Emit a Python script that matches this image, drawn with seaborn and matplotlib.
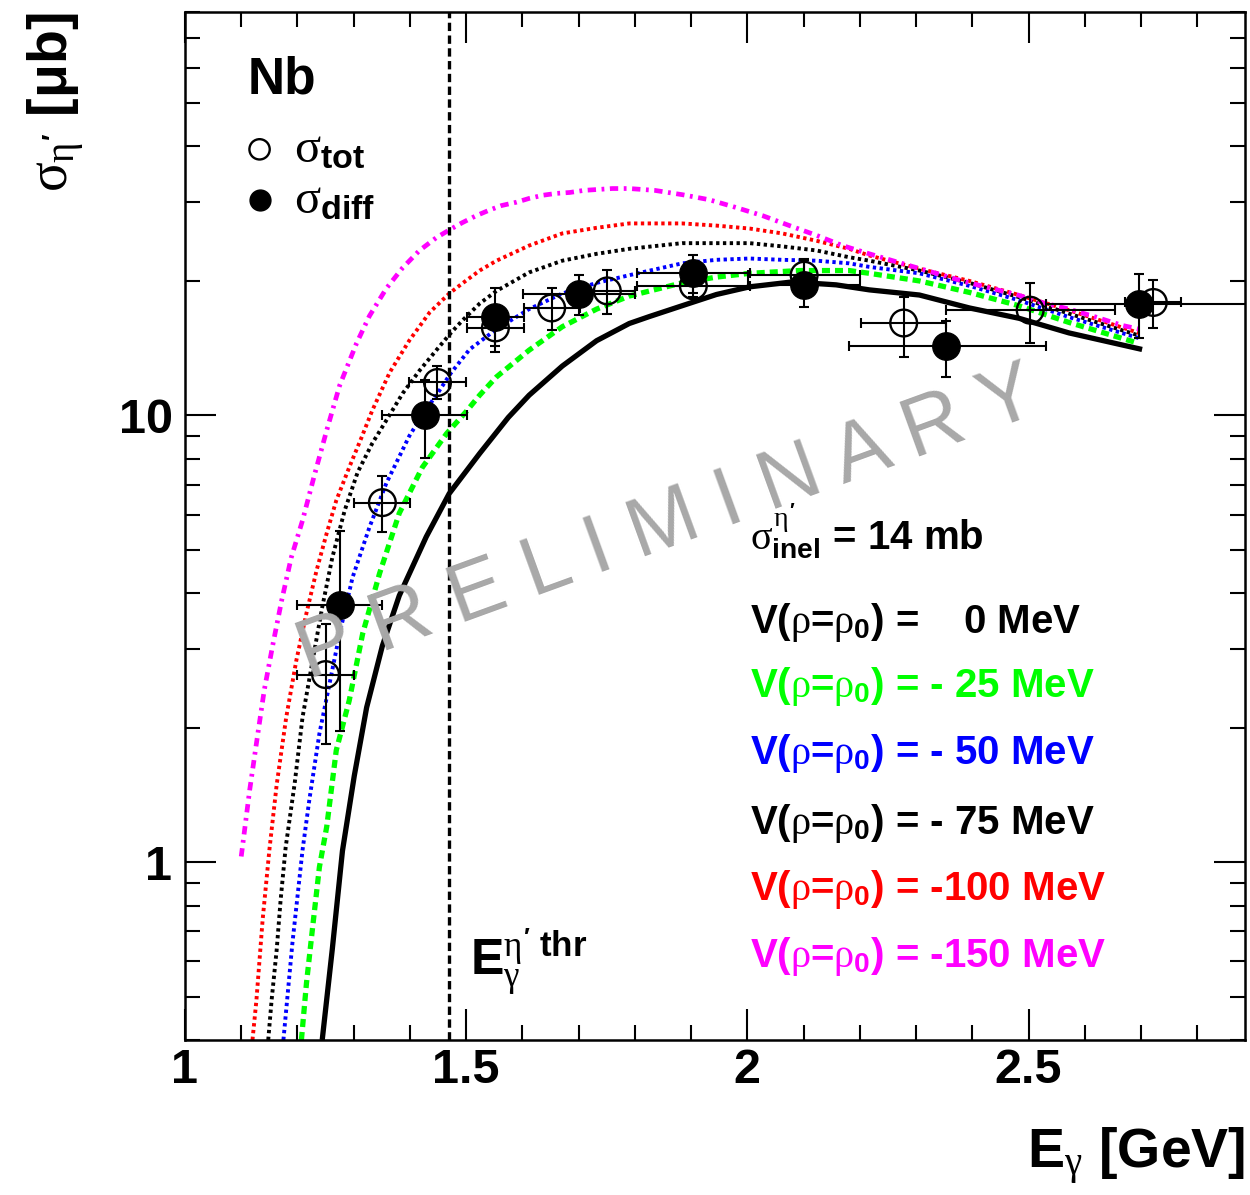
import numpy as np
import matplotlib
matplotlib.use("Agg")
import matplotlib.pyplot as plt
import seaborn as sns
from matplotlib.ticker import (FixedLocator, MultipleLocator, FuncFormatter,
                               NullFormatter, LogLocator)

# ---------------- model curves: sigma(eta') on Nb [mub] vs E_gamma [GeV]
e_v0 = [1.244, 1.262, 1.280, 1.301, 1.323, 1.351, 1.381, 1.429, 1.470, 1.524, 1.575,
        1.612, 1.671, 1.732, 1.790, 1.826, 1.884, 1.945, 2.004, 2.080, 2.158, 2.217,
        2.306, 2.395, 2.483, 2.572, 2.702]
xs_v0 = [0.40, 0.64, 1.06, 1.56, 2.22, 3.05, 3.95, 5.35, 6.69, 8.22, 9.90,
         11.1, 12.9, 14.7, 16.06, 16.65, 17.6, 18.65, 19.4, 19.9, 19.6, 19.1,
         18.6, 17.4, 16.5, 15.3, 14.05]

e_v25 = [1.207, 1.216, 1.227, 1.239, 1.252, 1.269, 1.292, 1.316, 1.346, 1.381, 1.422,
         1.465, 1.500, 1.524, 1.554, 1.612, 1.671, 1.732, 1.790, 1.884, 1.945, 2.004,
         2.092, 2.181, 2.217, 2.306, 2.395, 2.483, 2.572, 2.696]
xs_v25 = [0.40, 0.536, 0.716, 0.975, 1.20, 1.78, 2.30, 3.25, 4.43, 6.04, 7.65,
          9.1, 10.2, 11.1, 12.2, 14.0, 15.8, 17.3, 18.5, 19.8, 20.4, 20.8,
          21.1, 21.1, 20.8, 20.0, 18.85, 17.6, 16.15, 14.5]

e_v50 = [1.175, 1.191, 1.209, 1.221, 1.239, 1.257, 1.275, 1.298, 1.328, 1.358, 1.399,
         1.426, 1.447, 1.472, 1.506, 1.554, 1.612, 1.671, 1.732, 1.790, 1.884, 1.945,
         2.004, 2.062, 2.123, 2.181, 2.217, 2.306, 2.395, 2.483, 2.572, 2.696]
xs_v50 = [0.40, 0.659, 1.064, 1.376, 1.94, 2.51, 3.25, 4.34, 5.62, 7.05, 9.0,
          10.2, 11.1, 12.4, 14.05, 15.6, 17.3, 18.75, 19.8, 20.6, 21.9, 22.3,
          22.45, 22.3, 22.2, 21.9, 21.5, 20.8, 19.5, 18.1, 16.6, 14.9]

e_v75 = [1.148, 1.154, 1.163, 1.170, 1.179, 1.195, 1.209, 1.227, 1.244, 1.262, 1.284,
         1.307, 1.333, 1.358, 1.387, 1.417, 1.447, 1.472, 1.493, 1.524, 1.554, 1.612,
         1.671, 1.732, 1.790, 1.884, 1.945, 2.004, 2.062, 2.123, 2.181, 2.217, 2.306,
         2.395, 2.483, 2.572, 2.696]
xs_v75 = [0.40, 0.491, 0.636, 0.822, 1.08, 1.50, 2.11, 2.83, 3.72, 4.81, 6.13,
          7.46, 8.66, 9.75, 11.2, 12.6, 14.0, 15.26, 16.3, 17.8, 19.0, 20.9,
          22.2, 23.0, 23.6, 24.3, 24.3, 24.3, 23.9, 23.4, 22.6, 22.2, 21.1,
          19.8, 18.4, 16.9, 15.1]

e_v100 = [1.120, 1.127, 1.138, 1.150, 1.163, 1.180, 1.198, 1.216, 1.234, 1.252, 1.269,
          1.292, 1.314, 1.333, 1.364, 1.399, 1.435, 1.470, 1.493, 1.524, 1.554, 1.612,
          1.671, 1.732, 1.790, 1.884, 1.945, 2.004, 2.062, 2.123, 2.181, 2.217, 2.306,
          2.395, 2.483, 2.572, 2.696]
xs_v100 = [0.40, 0.491, 0.742, 1.064, 1.49, 2.11, 2.83, 3.61, 4.50, 5.45, 6.45,
           7.65, 8.93, 10.26, 12.48, 14.72, 17.0, 18.75, 19.74, 21.1, 22.2, 24.0,
           25.55, 26.3, 26.9, 26.9, 26.6, 26.2, 25.55, 24.6, 23.6, 22.8, 21.3,
           20.0, 18.6, 17.2, 15.3]

e_v150 = [1.100, 1.115, 1.129, 1.141, 1.156, 1.172, 1.189, 1.209, 1.230, 1.252, 1.275,
          1.305, 1.328, 1.358, 1.387, 1.417, 1.447, 1.472, 1.493, 1.518, 1.541, 1.563,
          1.589, 1.612, 1.636, 1.660, 1.684, 1.710, 1.760, 1.790, 1.835, 1.884, 1.932,
          1.980, 2.027, 2.075, 2.123, 2.169, 2.217, 2.288, 2.336, 2.382, 2.430, 2.478,
          2.524, 2.572, 2.620, 2.667, 2.697]
xs_v150 = [1.03, 1.45, 1.92, 2.43, 3.06, 3.86, 4.81, 5.82, 7.34, 9.26, 11.67,
           14.5, 16.7, 19.24, 21.4, 23.4, 25.0, 26.1, 27.0, 28.0, 28.8, 29.5,
           30.0, 30.6, 31.1, 31.4, 31.55, 31.9, 32.2, 32.2, 31.9, 31.2, 30.4,
           29.2, 28.0, 26.6, 25.3, 24.0, 23.0, 21.65, 20.8, 20.0, 19.3, 18.65,
           17.9, 17.3, 16.6, 15.9, 15.6]

# ---------------- measured cross sections
e_tot = [1.250, 1.351, 1.449, 1.552, 1.652, 1.751, 1.904, 2.101, 2.278, 2.503, 2.722]
xs_tot = [2.63, 6.38, 11.85, 15.7, 17.4, 19.0, 19.5, 20.6, 16.1, 17.2, 17.9]
xs_tot_low = [1.84, 5.47, 10.9, 13.9, 15.5, 16.9, 18.4, 18.9, 13.5, 14.5, 15.7]
xs_tot_high = [3.42, 7.30, 12.9, 17.6, 19.3, 21.2, 20.7, 22.3, 18.4, 19.8, 20.1]
de_tot = [0.05, 0.05, 0.05, 0.05, 0.05, 0.05, 0.10, 0.10, 0.075, 0.15, 0.05]

e_diff = [1.275, 1.426, 1.552, 1.701, 1.904, 2.101, 2.354, 2.697]
xs_diff = [3.76, 10.0, 16.6, 18.7, 20.8, 19.6, 14.3, 17.8]
xs_diff_low = [1.97, 8.01, 14.3, 16.8, 18.8, 17.5, 12.2, 14.9]
xs_diff_high = [5.50, 11.98, 19.3, 20.6, 22.9, 22.4, 16.3, 20.7]
de_diff_left = [0.075, 0.075, 0.05, 0.10, 0.10, 0.10, 0.173, 0.165]
de_diff_right = [0.075, 0.075, 0.05, 0.10, 0.10, 0.10, 0.178, 0.20]

potential_values = ["   0", "- 25", "- 50", "- 75", "-100", "-150"]
e_threshold = 1.47

# ---------------- style
sns.set_theme(style="ticks")
plt.rcParams.update({
    "font.family": ["Liberation Sans", "DejaVu Sans"],
    "font.weight": "bold",
    "axes.labelweight": "bold",
    "mathtext.fontset": "custom",
    "mathtext.rm": "Liberation Sans:bold",
    "mathtext.bf": "Liberation Sans:bold",
    "mathtext.sf": "Liberation Sans:bold",
    "mathtext.it": "Liberation Serif:normal",
    "lines.scale_dashes": False,
    "axes.edgecolor": "black",
    "axes.linewidth": 1.8,
    "axes.labelcolor": "black",
    "text.color": "black",
    "xtick.color": "black",
    "ytick.color": "black",
})

fig = plt.figure(figsize=(12.5, 11.95), dpi=100)
ax = fig.add_axes([0.148, 0.1297, 0.848, 0.8603])
ax.set_yscale("log")

curves = [
    (e_v0, xs_v0, "black", 3.8, None),
    (e_v25, xs_v25, "#00ff00", 3.8, (5.8, 3.6)),
    (e_v50, xs_v50, "#0000ff", 2.8, (2.4, 2.5)),
    (e_v75, xs_v75, "black", 2.8, (2.4, 2.5)),
    (e_v100, xs_v100, "#ff0000", 2.8, (2.4, 2.5)),
    (e_v150, xs_v150, "#ff00ff", 3.4, (6.0, 4.0, 2.0, 4.0)),
]
for e, s, col, lw, dash in curves:
    sns.lineplot(x=e, y=s, ax=ax, color=col, lw=lw, sort=False,
                 estimator=None, zorder=2)
    line = ax.lines[-1]
    if dash is not None:
        line.set_dashes(dash)
    line.set_dash_capstyle("butt")
    line.set_solid_capstyle("butt")
    line.set_solid_joinstyle("round")

# threshold energy of eta' photoproduction
ax.axvline(e_threshold, color="black", lw=2.4, dashes=(6, 3.2), zorder=2)

# error bars
xt = np.array(xs_tot)
ax.errorbar(e_tot, xs_tot, xerr=de_tot,
            yerr=[xt - np.array(xs_tot_low), np.array(xs_tot_high) - xt],
            fmt="none", ecolor="black", elinewidth=1.5, capsize=3.6,
            capthick=1.5, zorder=3)
xd = np.array(xs_diff)
ax.errorbar(e_diff, xs_diff, xerr=[de_diff_left, de_diff_right],
            yerr=[xd - np.array(xs_diff_low), np.array(xs_diff_high) - xd],
            fmt="none", ecolor="black", elinewidth=1.5, capsize=3.6,
            capthick=1.5, zorder=3)

# markers
sns.scatterplot(x=e_tot, y=xs_tot, ax=ax, marker="o", s=370,
                facecolors="none", edgecolor="black", linewidth=1.7, zorder=4)
pts_tot = ax.collections[-1]
pts_tot.set_facecolor("none")
pts_tot.set_edgecolor("black")
sns.scatterplot(x=e_diff, y=xs_diff, ax=ax, marker="o", s=390,
                color="black", edgecolor="black", linewidth=1.0, zorder=4)
pts_diff = ax.collections[-1]

ax.legend([pts_tot, pts_diff], [r"$\sigma_{\mathrm{tot}}$", r"$\sigma_{\mathrm{diff}}$"],
          loc="upper left", bbox_to_anchor=(0.052, 0.888), frameon=False,
          fontsize=35, markerscale=0.76, handlelength=0.8, handletextpad=0.3,
          labelspacing=0.12, borderaxespad=0, borderpad=0)

# axes
ax.set_xlim(1.0, 2.885)
ax.set_ylim(0.4, 80)
ax.xaxis.set_major_locator(MultipleLocator(0.5))
ax.xaxis.set_minor_locator(MultipleLocator(0.1))
ax.xaxis.set_major_formatter(FuncFormatter(lambda v, p: f"{v:g}"))
ax.yaxis.set_major_locator(FixedLocator([1, 10]))
ax.yaxis.set_minor_locator(LogLocator(base=10, subs=np.arange(2, 10)))
ax.yaxis.set_major_formatter(FuncFormatter(lambda v, p: f"{v:g}"))
ax.yaxis.set_minor_formatter(NullFormatter())
ax.tick_params(which="both", direction="in", top=True, right=True,
               width=1.5, labelsize=35)
ax.tick_params(which="major", length=22)
ax.tick_params(which="minor", length=11)
ax.tick_params(axis="x", pad=6)
ax.tick_params(axis="y", pad=9)
for sp in ax.spines.values():
    sp.set_visible(True)
    sp.set_color("black")
    sp.set_linewidth(1.8)

ax.set_xlabel(r"E$_{\gamma}$ [GeV]", fontsize=40, fontweight="bold", loc="right")
ax.xaxis.set_label_coords(1.0, -0.083)
ax.set_ylabel(r"$\sigma_{\eta'}$ [μb]", fontsize=40, fontweight="bold", loc="top")
ax.yaxis.set_label_coords(-0.092, 1.0)

# annotations
ax.text(0.059, 0.921, "Nb", transform=ax.transAxes, fontsize=37,
        ha="left", va="baseline")
ax.text(0.533, 0.477, r"$\sigma_{\mathrm{inel}}^{\eta'}$ = 14 mb",
        transform=ax.transAxes, fontsize=29, ha="left", va="baseline")
line_colors = ["black", "#00ff00", "#0000ff", "black", "#ff0000", "#ff00ff"]
line_y = [0.396, 0.334, 0.268, 0.200, 0.136, 0.071]
for val, col, yy in zip(potential_values, line_colors, line_y):
    ax.text(0.533, yy, r"V($\rho$=$\rho_{0}$) = " + val + " MeV",
            transform=ax.transAxes, fontsize=29, color=col,
            ha="left", va="baseline")
ax.text(0.269, 0.063, r"E$_{\gamma}^{\eta'\ \mathrm{thr}}$",
        transform=ax.transAxes, fontsize=36, ha="left", va="baseline")

ax.text(0.455, 0.502, "P R E L I M I N A R Y", transform=ax.transAxes,
        rotation=20, rotation_mode="anchor", ha="center", va="center",
        fontsize=60, fontweight="normal", color="#a8a8a8", zorder=10)

fig.savefig("out.png", dpi=100)
